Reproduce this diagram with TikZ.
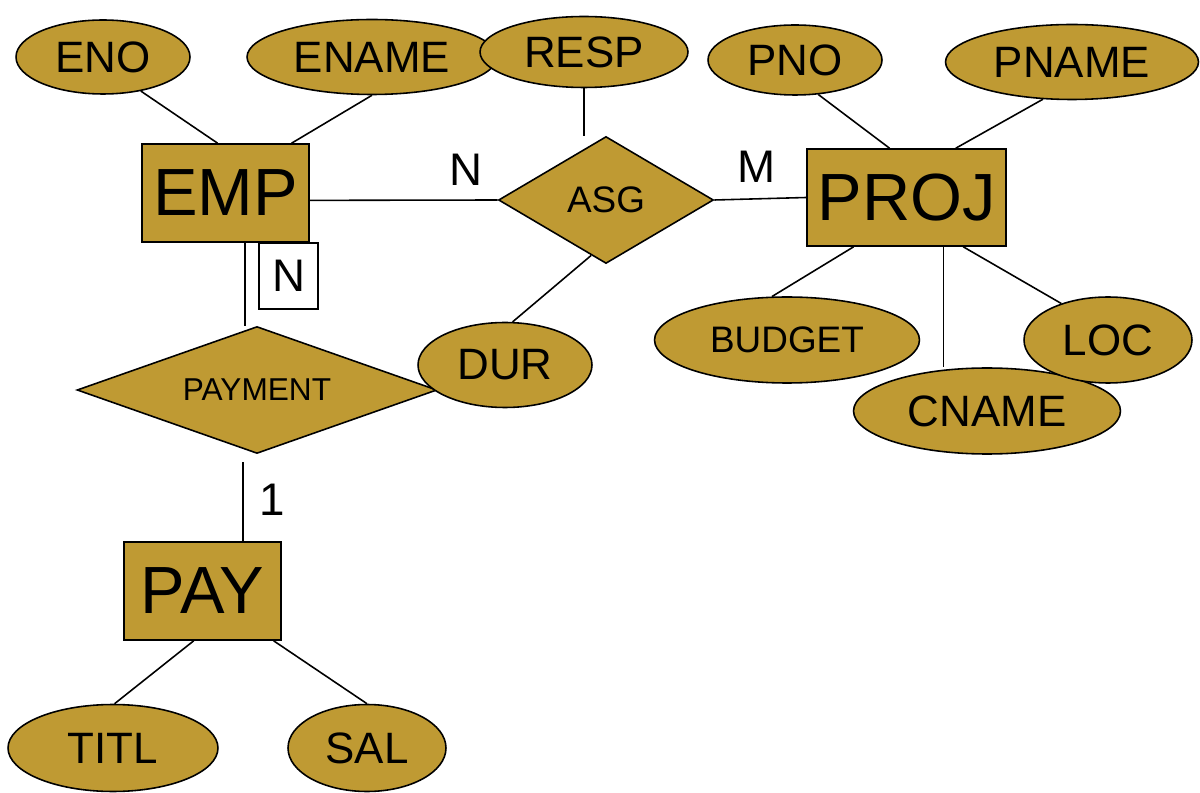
\documentclass[tikz,border=0pt]{standalone}
\usepackage{fontspec}
\setmainfont{Liberation Sans}
\usetikzlibrary{shapes.geometric}
\definecolor{gold}{HTML}{BF9A33}
\newcommand{\fs}[1]{\fontsize{#1}{#1}\selectfont}
\begin{document}
\begin{tikzpicture}[x=0.02cm,y=-0.02cm,line width=0.9pt,
	attr/.style={ellipse,draw,fill=gold,inner sep=0pt,font=\fs{25pt}},
	ent/.style={rectangle,draw,fill=gold,inner sep=0pt,font=\fs{38pt}},
	rel/.style={diamond,draw,fill=gold,inner sep=0pt,font=\fs{21pt}},
	lbl/.style={font=\fs{26pt},inner sep=0pt}]
	\useasboundingbox (0,0) rectangle (1200,793);
	% attributes on top
	\node[attr,minimum width=3.48cm,minimum height=1.48cm] (eno) at (103,57) {ENO};
	\node[attr,minimum width=5cm,minimum height=1.5cm] (ename) at (372,57) {ENAME};
	\node[attr,minimum width=4.16cm,minimum height=1.42cm] (resp) at (584,52) {RESP};
	\node[attr,minimum width=3.48cm,minimum height=1.4cm] (pno) at (795,60) {PNO};
	\node[attr,minimum width=5.06cm,minimum height=1.5cm] (pname) at (1072,62) {PNAME};
	% entities and relationships
	\node[ent,minimum width=3.34cm,minimum height=1.96cm] (emp) at (225.5,193) {EMP};
	\node[ent,minimum width=3.98cm,minimum height=1.94cm] (proj) at (906.5,197.5) {PROJ};
	\node[ent,minimum width=3.14cm,minimum height=1.96cm] (pay) at (202.5,591) {PAY};
	\node[rel,minimum width=4.3cm,minimum height=2.54cm,aspect=1.7] (asg) at (606,200) {ASG};
	\node[rel,minimum width=7.2cm,minimum height=2.54cm,aspect=2.8,font=\fs{18pt}] (paymt) at (257,390) {PAYMENT};
	\node[draw,fill=white,minimum width=1.18cm,minimum height=1.32cm,lbl] (nbox) at (288.5,276) {N};
	% attributes below
	\node[attr,minimum width=3.48cm,minimum height=1.7cm] (dur) at (505,365) {DUR};
	\node[attr,minimum width=5.3cm,minimum height=1.72cm,font=\fs{21pt}] (budget) at (787,340) {BUDGET};
	\node[attr,minimum width=5.34cm,minimum height=1.72cm] (cname) at (987,411) {CNAME};
	\node[attr,minimum width=3.36cm,minimum height=1.72cm] (loc) at (1108,340) {LOC};
	\node[attr,minimum width=4.2cm,minimum height=1.74cm] (titl) at (113,748) {TITL};
	\node[attr,minimum width=3.16cm,minimum height=1.74cm] (sal) at (367,748) {SAL};
	% cardinalities
	\node[lbl] (n) at (466,170) {N};
	\node[lbl] (m) at (757,167) {M};
	\node[lbl] (one) at (272,500) {1};
	% links
	\draw (eno.-42) -- (emp.99) (ename.south) -- (emp.37);
	\draw (pno.-56) -- (proj.109) (pname.-128) -- (proj.45);
	\draw (resp.south) -- (resp.south |- asg.north);
	\draw (emp.-5) -- (asg.west) (asg.east) -- (proj.west);
	\draw (asg.-105) -- (dur.80);
	\draw ([shift={(19.5,0)}]emp.south) -- ([shift={(19.5,0)}]emp.south |- paymt.north);
	\draw ([shift={(-14,8)}]paymt.south) -- ([shift={(-14,0)}]paymt.south |- pay.north);
	\draw (proj.-137) -- (budget.109) (proj.-41) -- (loc.142);
	\draw (proj.-53) -- (proj.-53 |- cname.north);
	\draw (pay.-100) -- (titl.88) (pay.-35) -- (sal.north);
\end{tikzpicture}
\end{document}
